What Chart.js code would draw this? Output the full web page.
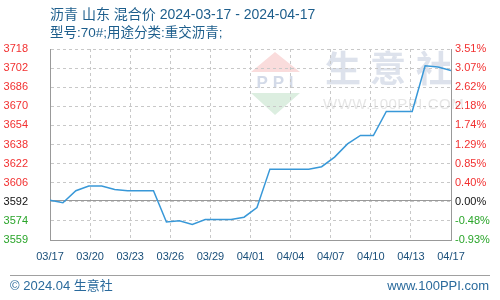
<!DOCTYPE html>
<html>
<head>
<meta charset="utf-8">
<script src="https://cdn.jsdelivr.net/npm/chart.js@4/dist/chart.umd.min.js"></script>
<style>
  html, body { margin: 0; padding: 0; background: #fff; }
  #box { width: 500px; height: 300px; }
</style>
</head>
<body>
<div id="box"><canvas id="grafico"></canvas></div>
<script>
// datas (um ponto por dia)
const datas = ['03/17','03/18','03/19','03/20','03/21','03/22','03/23','03/24','03/25','03/26','03/27',
  '03/28','03/29','03/30','03/31','04/01','04/02','04/03','04/04','04/05','04/06','04/07',
  '04/08','04/09','04/10','04/11','04/12','04/13','04/14','04/15','04/16','04/17'];
const precos = [3592, 3590, 3600, 3604, 3604, 3601, 3600, 3600, 3600, 3574, 3575,
  3572, 3576, 3576, 3576, 3578, 3586, 3618, 3618, 3618, 3618, 3620,
  3628, 3639, 3646, 3646, 3666, 3666, 3666, 3704, 3703, 3700];
const precoBase = 3592;

const rotulosX = ['03/17','03/20','03/23','03/26','03/29','04/01','04/04','04/07','04/10','04/13','04/17'];
const rotulosEsq = ['3718','3702','3686','3670','3654','3638','3622','3606','3592','3574','3559'];
const rotulosDir = ['3.51%','3.07%','2.62%','2.18%','1.74%','1.29%','0.85%','0.40%','0.00%','-0.48%','-0.93%'];

const titulo1 = '沥青 山东 混合价 2024-03-17 - 2024-04-17';
const titulo2 = '型号:70#;用途分类:重交沥青;';
const rodapeEsq = '© 2024.04 生意社';
const rodapeDir = 'www.100PPI.com';

const fonte = "'Liberation Sans', 'Noto Sans CJK SC', sans-serif";
const yMin = parseFloat(rotulosEsq[rotulosEsq.length - 1]);
const yMax = parseFloat(rotulosEsq[0]);

function corRotulo(txt) {
  const v = parseFloat(txt);
  if (txt.indexOf('%') >= 0) return v > 0 ? '#f23030' : (v < 0 ? '#2aa52a' : '#111');
  return v > precoBase ? '#f23030' : (v < precoBase ? '#2aa52a' : '#111');
}

// marca d'agua, titulo, rodape e linha zero
const extras = {
  id: 'extras',
  beforeDraw(chart) {
    const ctx = chart.ctx;
    ctx.save();
    // logo PPI
    ctx.fillStyle = '#fadcdc';
    ctx.beginPath(); ctx.moveTo(275, 52); ctx.lineTo(300, 72); ctx.lineTo(251, 72); ctx.closePath(); ctx.fill();
    ctx.fillStyle = '#dceee0';
    ctx.beginPath(); ctx.moveTo(251, 93); ctx.lineTo(300, 93); ctx.lineTo(275, 115); ctx.closePath(); ctx.fill();
    ctx.fillStyle = '#d3dae8';
    ctx.font = 'bold 17px ' + fonte;
    ctx.textBaseline = 'middle';
    ctx.textAlign = 'center';
    ctx.fillText('P P I', 275, 83);
    ctx.font = 'bold 36px ' + fonte;
    ctx.textAlign = 'left';
    ctx.fillStyle = '#dde2ec';
    ctx.fillText('生', 325, 72);
    ctx.fillText('意', 370, 72);
    ctx.fillText('社', 416, 72);
    ctx.font = '15px ' + fonte;
    ctx.fillStyle = '#e6e6e6';
    ctx.letterSpacing = '0.5px';
    ctx.fillText('WWW.100PPI.COM', 323, 105);
    ctx.restore();
  },
  beforeDatasetsDraw(chart) {
    const ctx = chart.ctx;
    const a = chart.chartArea;
    const y = Math.round(chart.scales.y.getPixelForValue(precoBase)) + 0.5;
    ctx.save();
    ctx.strokeStyle = '#999';
    ctx.lineWidth = 1;
    ctx.beginPath(); ctx.moveTo(a.left, y); ctx.lineTo(a.right, y); ctx.stroke();
    ctx.restore();
  },
  afterDraw(chart) {
    const ctx = chart.ctx;
    ctx.save();
    ctx.textBaseline = 'middle';
    ctx.fillStyle = '#1d5e8c';
    ctx.font = '14px ' + fonte;
    ctx.fillText(titulo1, 50, 15);
    ctx.font = '13.5px ' + fonte;
    ctx.fillText(titulo2, 50, 33);
    ctx.strokeStyle = '#a0a0a0';
    ctx.lineWidth = 1;
    ctx.beginPath(); ctx.moveTo(10, 275.5); ctx.lineTo(490, 275.5); ctx.stroke();
    ctx.fillStyle = '#2a6a9c';
    ctx.font = '13px ' + fonte;
    ctx.fillText(rodapeEsq, 10, 286);
    ctx.textAlign = 'right';
    ctx.fillText(rodapeDir, 489, 286);
    ctx.restore();
  }
};

const passoX = (datas.length - 1) / (rotulosX.length - 1);
const passoY = (yMax - yMin) / (rotulosEsq.length - 1);

new Chart(document.getElementById('grafico'), {
  type: 'line',
  data: {
    datasets: [{
      data: precos.map((p, i) => ({ x: i, y: p })),
      borderColor: '#3898d8',
      borderWidth: 1.5,
      pointRadius: 0,
      tension: 0,
      fill: false
    }]
  },
  options: {
    responsive: true,
    maintainAspectRatio: false,
    animation: false,
    layout: { padding: { top: 49, left: 0, right: 0, bottom: 0 } },
    plugins: { legend: { display: false }, tooltip: { enabled: false } },
    scales: {
      x: {
        type: 'linear',
        min: 0,
        max: datas.length - 1,
        afterBuildTicks: s => { s.ticks = rotulosX.map((_, k) => ({ value: k * passoX })); },
        afterFit: s => { s.height = 60; },
        grid: { color: '#c8c8c8', drawTicks: false },
        border: { color: '#999', dash: [3, 3] },
        ticks: {
          padding: 10,
          maxRotation: 0,
          autoSkip: false,
          color: '#1a4f7a',
          font: { family: fonte, size: 11 },
          callback: (v, i) => rotulosX[i]
        }
      },
      y: {
        position: 'left',
        min: yMin,
        max: yMax,
        afterBuildTicks: s => { s.ticks = rotulosEsq.map((_, k) => ({ value: yMin + k * passoY })); },
        afterFit: s => { s.width = 50; },
        grid: { color: '#c8c8c8', drawTicks: false },
        border: { color: '#999', dash: [3, 3] },
        ticks: {
          padding: 22,
          color: c => corRotulo(rotulosEsq[rotulosEsq.length - 1 - c.index]),
          font: { family: fonte, size: 11 },
          callback: (v, i) => rotulosEsq[rotulosEsq.length - 1 - i]
        }
      },
      y1: {
        position: 'right',
        min: yMin,
        max: yMax,
        afterBuildTicks: s => { s.ticks = rotulosDir.map((_, k) => ({ value: yMin + k * passoY })); },
        afterFit: s => { s.width = 49; },
        grid: { display: false, drawTicks: false },
        border: { color: '#999' },
        ticks: {
          padding: 4,
          color: c => corRotulo(rotulosDir[rotulosDir.length - 1 - c.index]),
          font: { family: fonte, size: 11 },
          callback: (v, i) => rotulosDir[rotulosDir.length - 1 - i]
        }
      }
    }
  },
  plugins: [extras]
});
</script>
</body>
</html>
